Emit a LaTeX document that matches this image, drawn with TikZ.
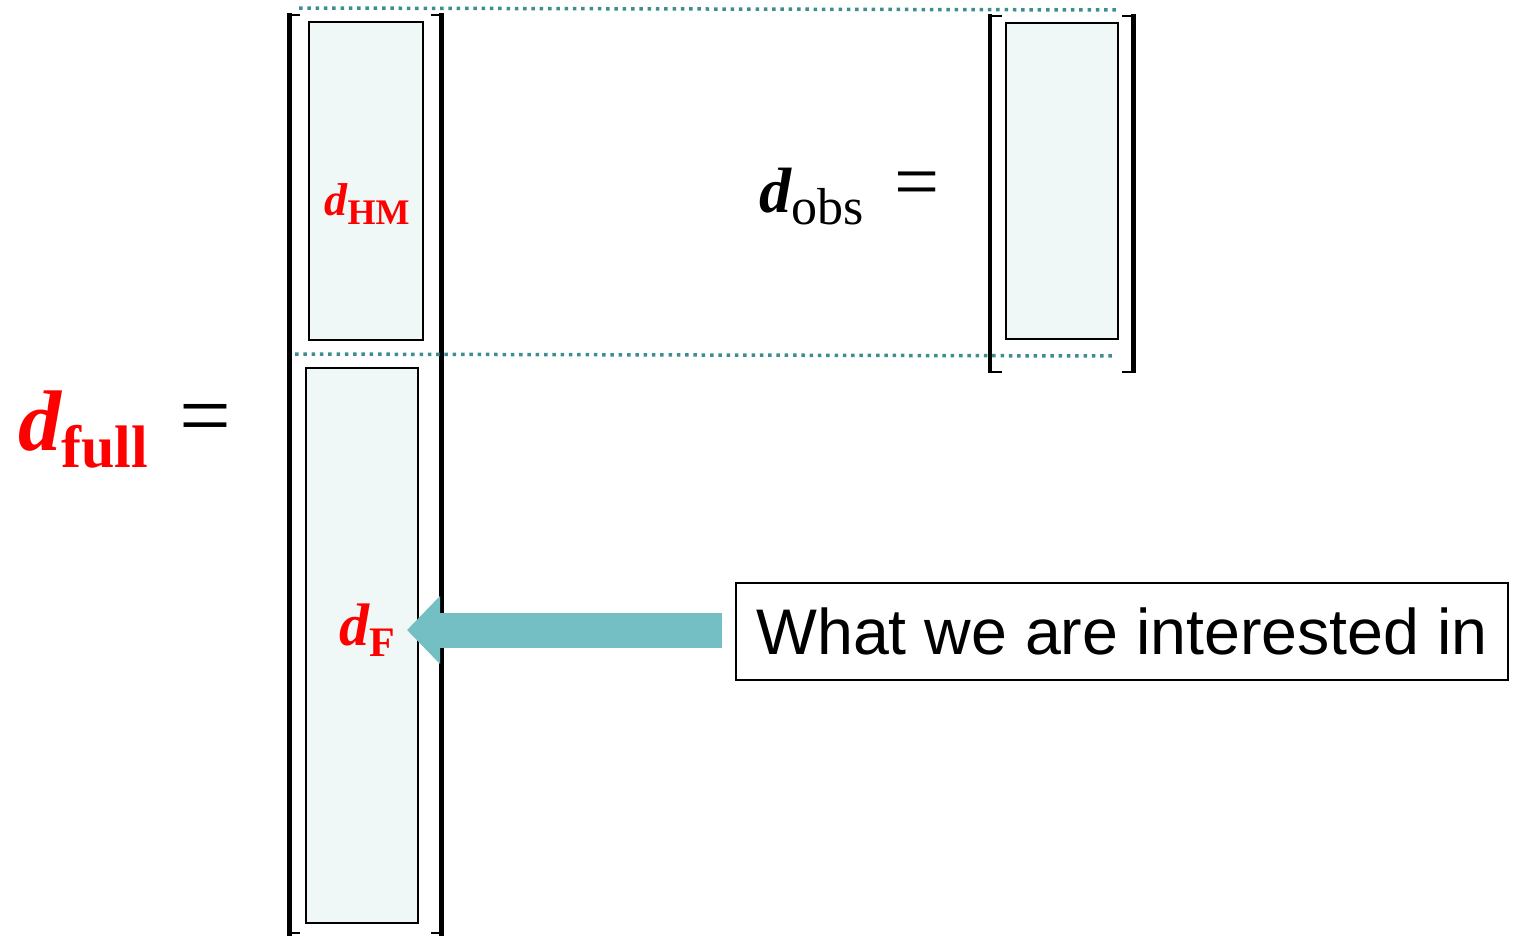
\documentclass[tikz,border=0pt]{standalone}
\usepackage{fontspec}
\setmainfont{Liberation Serif}
\newfontfamily\arialf{Liberation Sans}
\usetikzlibrary{arrows.meta}
\definecolor{boxfill}{HTML}{F0F8F7}
\definecolor{dotteal}{HTML}{3E8E91}
\definecolor{arrteal}{HTML}{74BFC4}
\definecolor{lblred}{HTML}{FF0000}
\tikzset{
  vecbox/.style={draw=black, line width=1.8pt, fill=boxfill, inner sep=0pt},
  brk/.style={line width=4.5pt, black},
  serif/.style={line width=2pt, black},
  dotline/.style={draw=dotteal, line width=3.5pt, dash pattern=on 3.5pt off 4.8pt},
  lbl/.style={inner sep=0pt, anchor=center},
}
\begin{document}
\begin{tikzpicture}[x=1pt,y=-1pt]
\useasboundingbox (0,0) rectangle (1515,935);
% inner boxes
\node[vecbox, minimum width=114pt, minimum height=318pt] (hmbox) at (366,181) {};
\node[vecbox, minimum width=112pt, minimum height=555pt] (fbox) at (362,645.5) {};
\node[vecbox, minimum width=112pt, minimum height=316pt] (obsbox) at (1062,181) {};
% left bracket
\draw[brk] (289.5,13) -- (289.5,936);
\draw[serif] (288,15) -- (300,15);
\draw[serif] (288,933) -- (300,933);
\draw[brk] (441.5,13) -- (441.5,936);
\draw[serif] (431,15) -- (443,15);
\draw[serif] (431,933) -- (443,933);
% right bracket
\draw[brk] (990,14) -- (990,373);
\draw[serif] (988.5,15.5) -- (1002,15.5);
\draw[serif] (988.5,372) -- (1002,372);
\draw[brk] (1133.5,14) -- (1133.5,373);
\draw[serif] (1122,15.5) -- (1135,15.5);
\draw[serif] (1122,372) -- (1135,372);
% dotted lines
\coordinate (dt1) at (299,8);
\coordinate (dt2) at (1119,10);
\coordinate (db1) at (295,354);
\coordinate (db2) at (1115,356);
\draw[dotline] (dt1) -- (dt2);
\draw[dotline] (db1) -- (db2);
% labels
\node[lbl, text=lblred] (dfull) at (83,430) {\fontsize{86}{90}\selectfont\bfseries\itshape d\raisebox{-17pt}{\fontsize{60}{64}\selectfont\upshape full}};
\node[lbl] (eqfull) at (205,425) {\fontsize{92}{96}\selectfont =};
\node[lbl, text=lblred] (dhm) at (367,204) {\fontsize{46}{50}\selectfont\bfseries\itshape d\raisebox{-9pt}{\fontsize{36}{40}\selectfont\upshape HM}};
\node[lbl, text=lblred] (df) at (367,630) {\fontsize{60}{64}\selectfont\bfseries\itshape d\raisebox{-11pt}{\fontsize{42}{46}\selectfont\upshape F}};
\node[lbl] (dobs) at (812,197) {\fontsize{64}{70}\selectfont\bfseries\itshape d\raisebox{-12pt}{\fontsize{52}{56}\selectfont\mdseries\upshape obs}};
\node[lbl] (eqobs) at (917,190) {\fontsize{80}{84}\selectfont =};
% text box
\node[draw=black, line width=2pt, minimum width=772pt, minimum height=97pt, inner sep=0pt] (textbox) at (1122,631.5) {\arialf\fontsize{64.5}{70}\selectfont What we are interested in};
% arrow
\coordinate (tip) at (407,630);
\draw[arrteal, line width=35pt, -{Triangle[length=33pt,width=66pt]}, shorten <=13pt] (textbox.west |- tip) -- (tip);
\end{tikzpicture}
\end{document}
